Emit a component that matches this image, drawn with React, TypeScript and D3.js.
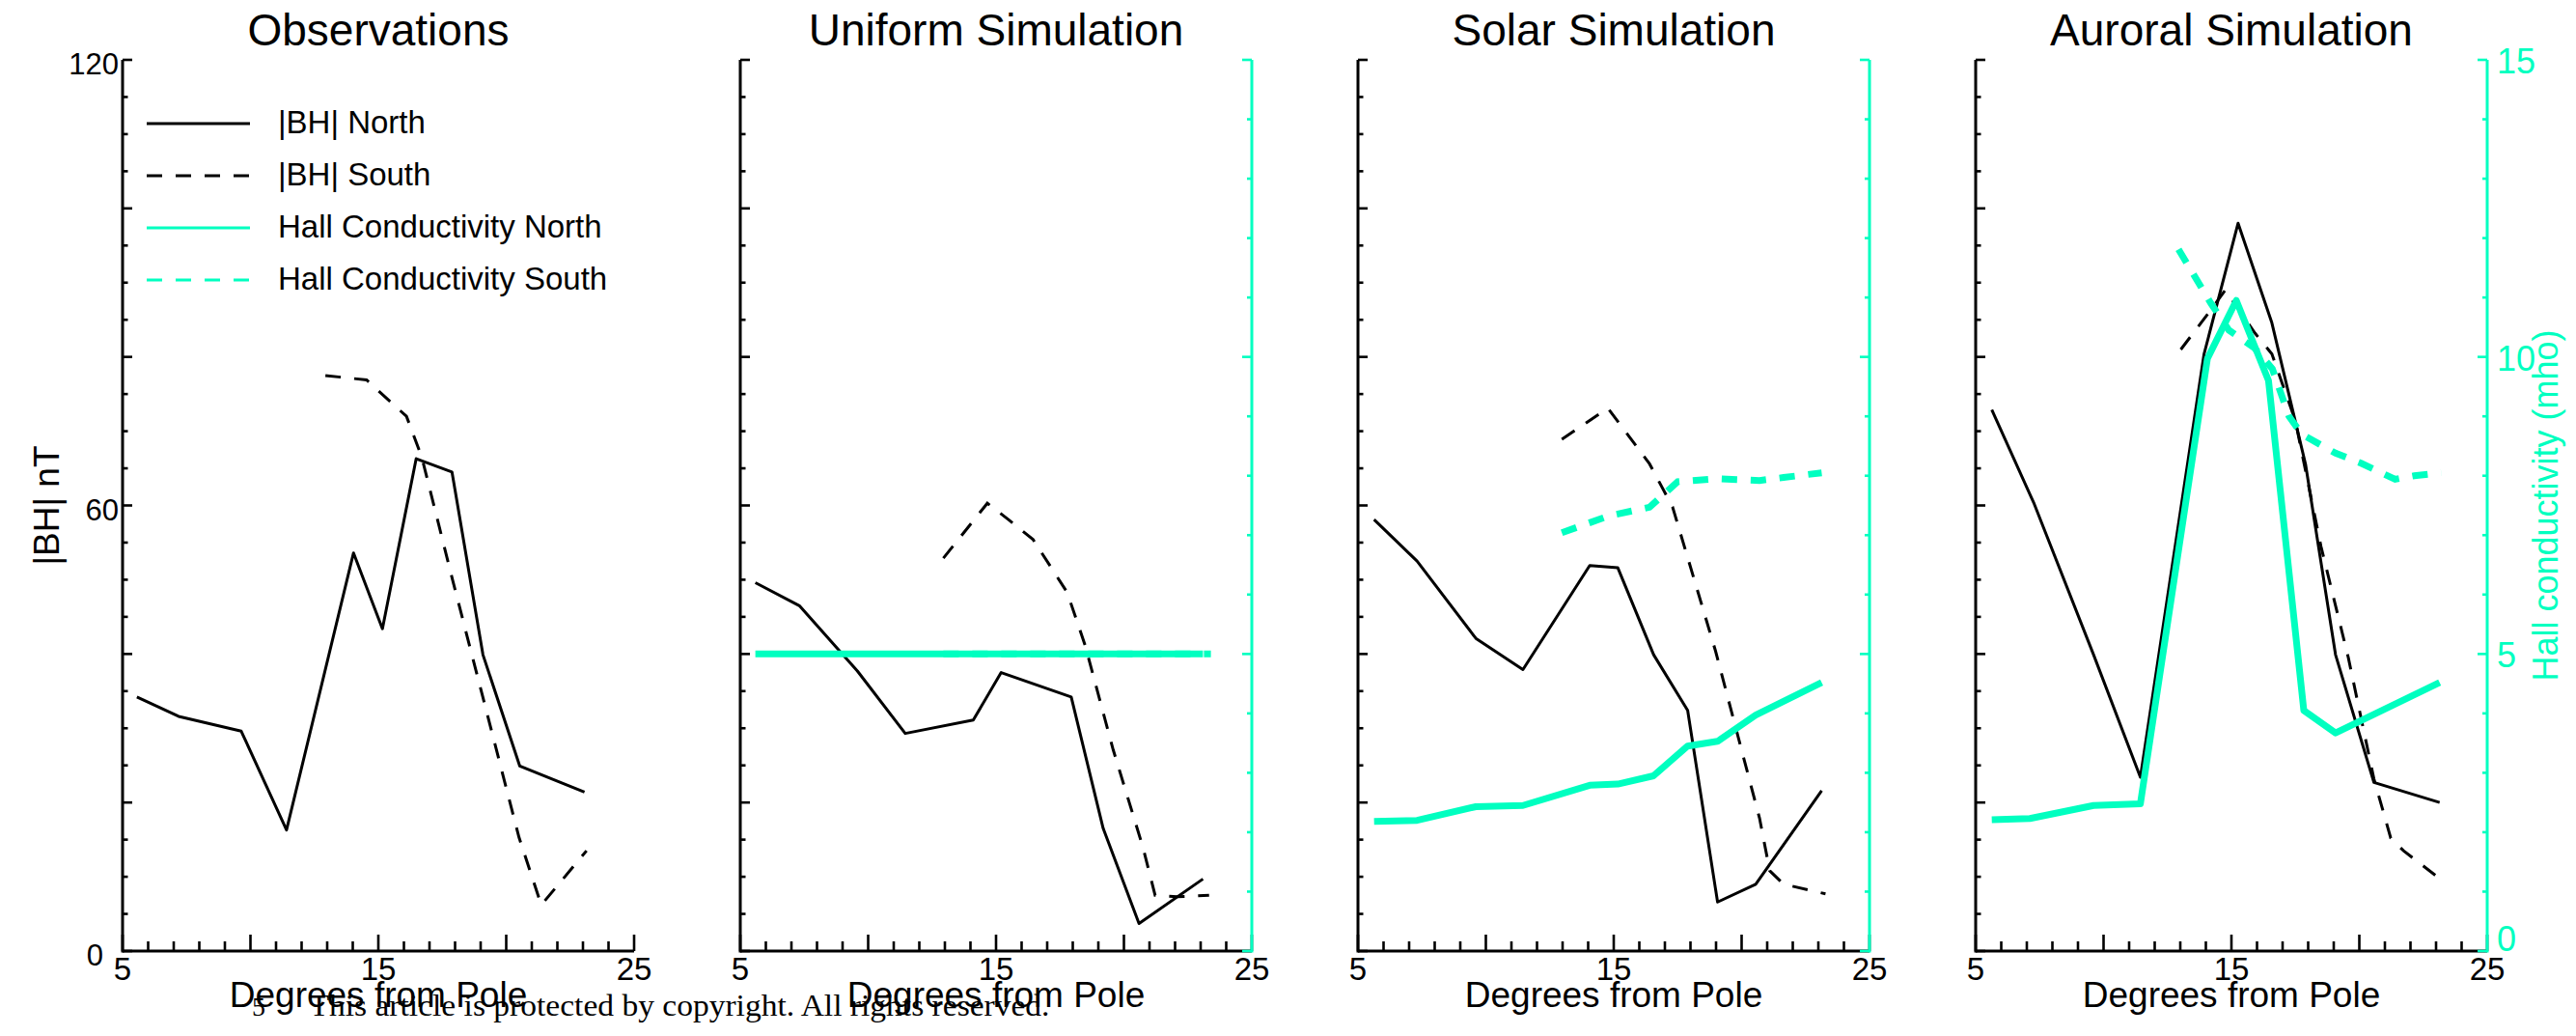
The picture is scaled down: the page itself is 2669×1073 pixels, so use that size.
import React from 'react';
import * as d3 from 'd3';

// ---------- data ----------
const TITLES = ['Observations', 'Uniform Simulation', 'Solar Simulation', 'Auroral Simulation'];
const X_LABELS = [5, 15, 25];
const Y_LABELS = [0, 60, 120];
const HALL_LABELS = [0, 5, 10, 15];
const LEGEND_LABELS = ['|BH| North', '|BH| South', 'Hall Conductivity North', 'Hall Conductivity South'];
const PAGE_NUMBER = '5';
const WATERMARK = 'This article is protected by copyright. All rights reserved.';

// Observations
const obsNorthDeg = [5.56, 7.19, 9.64, 11.41, 14.03, 15.16, 16.48, 17.88, 19.09, 20.53, 23.06];
const obsNorthBH = [34.2, 31.6, 29.6, 16.3, 53.6, 43.4, 66.3, 64.5, 39.9, 24.9, 21.4];
const obsSouthDeg = [12.93, 14.54, 16.1, 16.7, 17.9, 19.1, 20.5, 21.37, 23.14];
const obsSouthBH = [77.5, 76.9, 72.0, 66.5, 50.0, 34.0, 15.3, 6.2, 13.5];

// Uniform simulation
const uniNorthDeg = [5.59, 7.31, 9.58, 11.45, 14.11, 15.2, 17.94, 19.19, 20.59, 23.09];
const uniNorthBH = [49.6, 46.5, 37.7, 29.3, 31.1, 37.5, 34.2, 16.5, 3.7, 9.7];
const uniSouthDeg = [12.94, 14.66, 15.52, 16.45, 17.78, 18.48, 19.58, 20.75, 21.22, 22.08, 23.33];
const uniSouthBH = [52.9, 60.3, 58.0, 55.4, 48.3, 41.2, 27.1, 13.9, 7.5, 7.3, 7.5];
const uniHallNorth = [5, 5, 5, 5, 5, 5, 5, 5, 5, 5];
const uniHallSouthDeg = [12.94, 14.66, 15.52, 16.45, 17.78, 18.48, 19.58, 20.75, 21.22, 22.08, 23.4];
const uniHallSouth = [5, 5, 5, 5, 5, 5, 5, 5, 5, 5, 5];

// Solar simulation
const solNorthDeg = [5.63, 7.31, 9.61, 11.45, 14.06, 15.16, 16.56, 17.89, 19.06, 20.55, 23.13];
const solNorthBH = [58.1, 52.5, 42.1, 37.9, 51.9, 51.6, 39.9, 32.4, 6.6, 9.0, 21.6];
const solSouthDeg = [12.97, 14.77, 16.4, 17.3, 18.98, 20.7, 21.1, 21.64, 23.28];
const solSouthBH = [68.9, 73.1, 65.6, 59.8, 40.4, 17.9, 10.8, 9.0, 7.7];
const solHallNorth = [2.18, 2.2, 2.43, 2.45, 2.79, 2.81, 2.95, 3.45, 3.53, 3.97, 4.52];
const solHallSouthDeg = [12.97, 14.77, 16.4, 17.5, 18.98, 20.7, 21.64, 23.13];
const solHallSouth = [7.04, 7.32, 7.47, 7.9, 7.95, 7.92, 7.97, 8.05];

// Auroral simulation
const aurNorthDeg = [5.63, 7.29, 9.61, 11.44, 13.93, 15.26, 16.58, 17.9, 19.07, 20.57, 23.14];
const aurNorthBH = [72.9, 60.2, 39.9, 23.4, 80.4, 98.0, 84.6, 65.5, 39.9, 22.7, 20.0];
const aurSouthDeg = [13.02, 14.1, 14.76, 15.92, 16.58, 17.5, 18.5, 19.57, 20.57, 21.23, 21.73, 22.97];
const aurSouthBH = [81.0, 85.9, 89.0, 83.2, 80.4, 71.4, 54.5, 39.5, 23.2, 15.2, 13.5, 10.2];
const aurHallNorthDeg = [5.63, 7.12, 9.61, 11.44, 14.06, 15.19, 16.45, 17.83, 19.07, 23.14];
const aurHallNorth = [2.21, 2.23, 2.45, 2.48, 9.97, 10.95, 9.6, 4.05, 3.67, 4.52];
const aurHallSouthDeg = [12.93, 14.2, 14.9, 15.9, 16.6, 17.25, 17.75, 19.07, 20.07, 21.4, 22.15, 23.2];
const aurHallSouth = [11.81, 10.9, 10.45, 10.15, 9.8, 9.0, 8.7, 8.38, 8.21, 7.94, 8.0, 8.05];

// ---------- styling ----------
const CYAN = '#00FFC0';
const SANS = '"Liberation Sans", Arial, Helvetica, sans-serif';
const SERIF = '"Liberation Serif", "Times New Roman", serif';
const DASH = '16,14';

type Series = { deg: number[]; val: number[] };
type Panel = {
  title: string;
  north: Series;
  south: Series;
  hallNorth: Series | null;
  hallSouth: Series | null;
  rightAxis: boolean;
  rightLabels: boolean;
  leftLabels: boolean;
  legend: boolean;
};

const PANELS: Panel[] = [
  {
    title: TITLES[0],
    north: { deg: obsNorthDeg, val: obsNorthBH },
    south: { deg: obsSouthDeg, val: obsSouthBH },
    hallNorth: null, hallSouth: null,
    rightAxis: false, rightLabels: false, leftLabels: true, legend: true,
  },
  {
    title: TITLES[1],
    north: { deg: uniNorthDeg, val: uniNorthBH },
    south: { deg: uniSouthDeg, val: uniSouthBH },
    hallNorth: { deg: uniNorthDeg, val: uniHallNorth },
    hallSouth: { deg: uniHallSouthDeg, val: uniHallSouth },
    rightAxis: true, rightLabels: false, leftLabels: false, legend: false,
  },
  {
    title: TITLES[2],
    north: { deg: solNorthDeg, val: solNorthBH },
    south: { deg: solSouthDeg, val: solSouthBH },
    hallNorth: { deg: solNorthDeg, val: solHallNorth },
    hallSouth: { deg: solHallSouthDeg, val: solHallSouth },
    rightAxis: true, rightLabels: false, leftLabels: false, legend: false,
  },
  {
    title: TITLES[3],
    north: { deg: aurNorthDeg, val: aurNorthBH },
    south: { deg: aurSouthDeg, val: aurSouthBH },
    hallNorth: { deg: aurHallNorthDeg, val: aurHallNorth },
    hallSouth: { deg: aurHallSouthDeg, val: aurHallSouth },
    rightAxis: true, rightLabels: true, leftLabels: false, legend: false,
  },
];

const W = 2669;
const H = 1073;
const TOP = 62;
const BOTTOM = 985;
const PW = 530;
const FIRST_LEFT = 127;
const STEP = 640;

export default function App() {
  const yBH = d3.scaleLinear().domain([0, 120]).range([BOTTOM, TOP]);
  const yHall = d3.scaleLinear().domain([0, 15]).range([BOTTOM, TOP]);
  const xTicks = d3.range(5, 26, 1);
  const yTicks = d3.range(0, 121, 5);
  const hTicks = d3.range(0, 16, 1);

  return (
    <svg width={W} height={H} viewBox={`0 0 ${W} ${H}`}
      style={{ position: 'absolute', left: 0, top: 0, background: '#fff' }}>
      <rect x={0} y={0} width={W} height={H} fill="#fff" />
      {PANELS.map((p, i) => {
        const left = FIRST_LEFT + i * STEP;
        const right = left + PW;
        const x = d3.scaleLinear().domain([5, 25]).range([left, right]);
        const lineBH = d3.line<[number, number]>().x(d => x(d[0])).y(d => yBH(d[1]));
        const lineHall = d3.line<[number, number]>().x(d => x(d[0])).y(d => yHall(d[1]));
        const pts = (s: Series) => d3.zip(s.deg, s.val) as [number, number][];
        return (
          <g key={i}>
            <text x={(left + right) / 2} y={47} textAnchor="middle" fontFamily={SANS} fontSize={46} fill="#000">{p.title}</text>

            {/* data: BH */}
            <path d={lineBH(pts(p.north)) || ''} fill="none" stroke="#000" strokeWidth={3} strokeLinejoin="round" />
            <path d={lineBH(pts(p.south)) || ''} fill="none" stroke="#000" strokeWidth={3} strokeDasharray={DASH} />
            {/* data: Hall */}
            {p.hallSouth && (
              <path d={lineHall(pts(p.hallSouth)) || ''} fill="none" stroke={CYAN} strokeWidth={7} strokeDasharray={DASH} />
            )}
            {p.hallNorth && (
              <path d={lineHall(pts(p.hallNorth)) || ''} fill="none" stroke={CYAN} strokeWidth={7} strokeLinejoin="round" />
            )}

            {/* x axis */}
            <line x1={left} x2={right} y1={BOTTOM} y2={BOTTOM} stroke="#000" strokeWidth={3} />
            {xTicks.map(v => (
              <line key={'xt' + v} x1={x(v)} x2={x(v)} y1={BOTTOM} y2={BOTTOM - (v % 5 === 0 ? 17 : 10)} stroke="#000" strokeWidth={2.6} />
            ))}
            {X_LABELS.map(v => (
              <text key={'xl' + v} x={x(v)} y={1015} textAnchor="middle" fontFamily={SANS} fontSize={33} fill="#000">{v}</text>
            ))}
            <text x={(left + right) / 2} y={1043} textAnchor="middle" fontFamily={SANS} fontSize={37} fill="#000">Degrees from Pole</text>

            {/* left axis */}
            <line x1={left} x2={left} y1={BOTTOM + 1.5} y2={TOP} stroke="#000" strokeWidth={3} />
            {yTicks.map(v => (
              <line key={'yt' + v} x1={left} x2={left + (v % 20 === 0 ? 10 : 5.5)} y1={yBH(v)} y2={yBH(v)} stroke="#000" strokeWidth={2.6} />
            ))}
            {p.leftLabels && Y_LABELS.map(v => (
              <text key={'yl' + v} x={left - (v === 0 ? 20 : 4)} y={yBH(v) + 15} textAnchor="end" fontFamily={SANS} fontSize={31} fill="#000">{v}</text>
            ))}
            {p.leftLabels && (
              <text transform={`translate(61,${(TOP + BOTTOM) / 2}) rotate(-90)`} textAnchor="middle" fontFamily={SANS} fontSize={37} fill="#000">|BH| nT</text>
            )}

            {/* right axis */}
            {p.rightAxis && (
              <g>
                <line x1={right} x2={right} y1={BOTTOM + 1.5} y2={TOP} stroke={CYAN} strokeWidth={3} />
                {hTicks.map(v => (
                  <line key={'ht' + v} x1={right} x2={right - (v % 5 === 0 ? 10 : 5)} y1={yHall(v)} y2={yHall(v)} stroke={CYAN} strokeWidth={2.6} />
                ))}
              </g>
            )}
            {p.rightLabels && HALL_LABELS.map(v => (
              <text key={'hl' + v} x={right + 10} y={Math.min(yHall(v) + 14, BOTTOM)} textAnchor="start" fontFamily={SANS} fontSize={36} fill={CYAN}>{v}</text>
            ))}
            {p.rightLabels && (
              <text transform={`translate(2650,${(TOP + BOTTOM) / 2}) rotate(-90)`} textAnchor="middle" fontFamily={SANS} fontSize={36} fill={CYAN}>Hall conductivity (mho)</text>
            )}

            {/* legend */}
            {p.legend && LEGEND_LABELS.map((lab, k) => {
              const ly = 128 + k * 54;
              const isHall = k >= 2;
              const dashed = k % 2 === 1;
              return (
                <g key={'lg' + k}>
                  <line x1={left + 25} x2={left + 132} y1={ly} y2={ly}
                    stroke={isHall ? CYAN : '#000'} strokeWidth={3}
                    strokeDasharray={dashed ? DASH : undefined} />
                  <text x={left + 161} y={ly + 10} fontFamily={SANS} fontSize={33} fill="#000">{lab}</text>
                </g>
              );
            })}
          </g>
        );
      })}
      <text x={268} y={1052} textAnchor="middle" fontFamily={SERIF} fontSize={28} fill="#000">{PAGE_NUMBER}</text>
      <text x={704} y={1052} textAnchor="middle" fontFamily={SERIF} fontSize={32}
        textLength={767} lengthAdjust="spacingAndGlyphs" fill="#000">{WATERMARK}</text>
    </svg>
  );
}
